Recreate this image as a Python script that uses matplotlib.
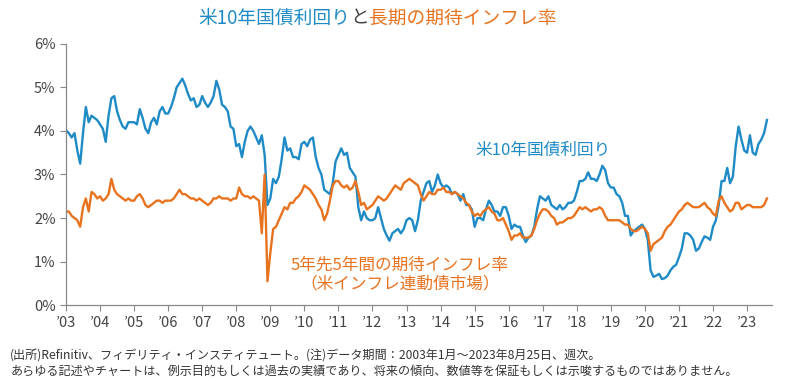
import numpy as np
import matplotlib
matplotlib.use("Agg")
import matplotlib.pyplot as plt

plt.rcParams['font.family'] = ['Noto Sans CJK JP', 'DejaVu Sans']

# monthly readings, Jan 2003 - Aug 2023 (%)
us10y = [
    4.02, 3.95, 3.85, 3.95, 3.55, 3.25, 3.95, 4.55, 4.20, 4.35, 4.30, 4.25,  # 2003
    4.15, 4.05, 3.75, 4.35, 4.75, 4.80, 4.45, 4.25, 4.10, 4.05, 4.20, 4.20,  # 2004
    4.20, 4.15, 4.50, 4.30, 4.05, 3.95, 4.20, 4.30, 4.15, 4.45, 4.55, 4.40,  # 2005
    4.40, 4.55, 4.75, 5.00, 5.10, 5.20, 5.05, 4.85, 4.70, 4.75, 4.55, 4.60,  # 2006
    4.80, 4.65, 4.55, 4.65, 4.80, 5.15, 4.95, 4.60, 4.55, 4.45, 4.10, 4.05,  # 2007
    3.65, 3.70, 3.40, 3.75, 4.00, 4.10, 4.00, 3.85, 3.70, 3.90, 3.45, 2.30,  # 2008
    2.45, 2.90, 2.80, 2.95, 3.35, 3.85, 3.55, 3.60, 3.40, 3.40, 3.35, 3.70,  # 2009
    3.75, 3.65, 3.80, 3.85, 3.40, 3.15, 3.00, 2.65, 2.60, 2.55, 2.80, 3.30,  # 2010
    3.45, 3.60, 3.45, 3.50, 3.15, 3.05, 2.95, 2.25, 1.95, 2.15, 2.00, 1.95,  # 2011
    1.95, 2.00, 2.25, 2.00, 1.75, 1.60, 1.48, 1.65, 1.70, 1.75, 1.65, 1.75,  # 2012
    1.95, 2.00, 1.95, 1.70, 1.95, 2.40, 2.60, 2.80, 2.85, 2.60, 2.75, 3.00,  # 2013
    2.80, 2.70, 2.75, 2.70, 2.55, 2.60, 2.55, 2.40, 2.55, 2.30, 2.30, 2.20,  # 2014
    1.80, 2.00, 2.00, 1.95, 2.20, 2.40, 2.30, 2.15, 2.15, 2.05, 2.25, 2.25,  # 2015
    2.05, 1.75, 1.85, 1.80, 1.80, 1.60, 1.45, 1.55, 1.60, 1.80, 2.20, 2.50,  # 2016
    2.45, 2.40, 2.50, 2.30, 2.25, 2.20, 2.30, 2.20, 2.25, 2.35, 2.35, 2.40,  # 2017
    2.60, 2.85, 2.85, 2.90, 3.05, 2.90, 2.90, 2.85, 3.00, 3.20, 3.10, 2.80,  # 2018
    2.70, 2.70, 2.55, 2.50, 2.35, 2.05, 2.05, 1.60, 1.70, 1.75, 1.80, 1.85,  # 2019
    1.75, 1.50, 0.80, 0.65, 0.68, 0.72, 0.60, 0.62, 0.68, 0.80, 0.88, 0.93,  # 2020
    1.10, 1.30, 1.65, 1.65, 1.60, 1.50, 1.25, 1.30, 1.45, 1.58, 1.55, 1.50,  # 2021
    1.80, 1.95, 2.30, 2.85, 2.85, 3.15, 2.80, 2.95, 3.65, 4.10, 3.80, 3.55,  # 2022
    3.50, 3.90, 3.50, 3.45, 3.70, 3.80, 3.95, 4.25,                          # 2023
]

infl5y5y = [
    2.15, 2.15, 2.05, 2.00, 1.95, 1.80, 2.25, 2.45, 2.15, 2.60, 2.55, 2.45,  # 2003
    2.50, 2.40, 2.45, 2.55, 2.90, 2.65, 2.55, 2.50, 2.45, 2.40, 2.45, 2.40,  # 2004
    2.40, 2.50, 2.55, 2.45, 2.30, 2.25, 2.30, 2.35, 2.40, 2.40, 2.35, 2.40,  # 2005
    2.40, 2.40, 2.45, 2.55, 2.65, 2.55, 2.55, 2.50, 2.45, 2.45, 2.40, 2.45,  # 2006
    2.40, 2.35, 2.30, 2.35, 2.45, 2.45, 2.50, 2.45, 2.45, 2.45, 2.40, 2.45,  # 2007
    2.45, 2.70, 2.55, 2.50, 2.50, 2.45, 2.50, 2.45, 2.40, 1.65, 3.00, 0.55,  # 2008
    1.20, 1.75, 1.80, 1.95, 2.10, 2.25, 2.20, 2.35, 2.35, 2.45, 2.50, 2.60,  # 2009
    2.75, 2.70, 2.65, 2.55, 2.45, 2.30, 2.20, 1.95, 2.10, 2.40, 2.75, 2.85,  # 2010
    2.85, 2.75, 2.70, 2.75, 2.65, 2.70, 2.85, 2.60, 2.30, 2.35, 2.20, 2.25,  # 2011
    2.30, 2.40, 2.50, 2.45, 2.40, 2.45, 2.55, 2.65, 2.75, 2.70, 2.65, 2.80,  # 2012
    2.85, 2.90, 2.85, 2.80, 2.75, 2.55, 2.40, 2.50, 2.60, 2.55, 2.55, 2.65,  # 2013
    2.65, 2.70, 2.60, 2.60, 2.55, 2.60, 2.55, 2.50, 2.45, 2.35, 2.30, 2.15,  # 2014
    2.05, 2.10, 2.05, 2.15, 2.20, 2.25, 2.15, 2.10, 1.95, 1.95, 2.00, 1.85,  # 2015
    1.70, 1.50, 1.60, 1.60, 1.65, 1.55, 1.55, 1.55, 1.60, 1.75, 1.95, 2.10,  # 2016
    2.20, 2.20, 2.15, 2.05, 2.00, 1.85, 1.90, 1.90, 1.95, 2.00, 2.00, 2.05,  # 2017
    2.15, 2.25, 2.20, 2.25, 2.20, 2.15, 2.20, 2.20, 2.25, 2.20, 2.05, 1.95,  # 2018
    1.95, 1.95, 1.95, 1.95, 1.90, 1.85, 1.85, 1.75, 1.70, 1.70, 1.75, 1.80,  # 2019
    1.75, 1.65, 1.25, 1.40, 1.45, 1.50, 1.55, 1.70, 1.80, 1.85, 1.95, 2.05,  # 2020
    2.15, 2.20, 2.30, 2.35, 2.30, 2.25, 2.25, 2.25, 2.30, 2.35, 2.25, 2.20,  # 2021
    2.10, 2.05, 2.40, 2.50, 2.35, 2.25, 2.15, 2.20, 2.35, 2.35, 2.20, 2.25,  # 2022
    2.30, 2.30, 2.25, 2.25, 2.25, 2.25, 2.30, 2.45,                          # 2023
]

years = list(range(2003, 2024))
year_labels = ["\u2019%02d" % (y % 100) for y in years]
y_ticks = [0, 1, 2, 3, 4, 5, 6]
y_labels = ['%d%%' % v for v in y_ticks]

BLUE = '#1f8bc6'
ORANGE = '#e8731f'
GRAY = '#444444'

t = 2003 + np.arange(len(us10y)) / 12.0

fig = plt.figure(figsize=(7.95, 3.81), dpi=100)
ax = fig.add_axes([0.083, 0.199, 0.888, 0.686])

ax.plot(t, us10y, color=BLUE, lw=1.7)
ax.plot(t, infl5y5y, color=ORANGE, lw=1.7)

ax.set_xlim(2003, 2023.73)
ax.set_ylim(0, 6)
ax.set_xticks(years)
ax.set_xticklabels(year_labels, fontsize=10.5, color=GRAY)
ax.set_yticks(y_ticks)
ax.set_yticklabels(y_labels, fontsize=10.5, color=GRAY)
ax.tick_params(axis='both', color='#888888', length=4, width=0.8)
for s in ['top', 'right']:
    ax.spines[s].set_visible(False)
for s in ['left', 'bottom']:
    ax.spines[s].set_color('#888888')
    ax.spines[s].set_linewidth(0.9)

ax.text(2017.0, 3.56, '米10年国債利回り', color=BLUE, fontsize=12,
        ha='center', va='center')
ax.text(2012.8, 0.7, '5年先5年間の期待インフレ率\n（米インフレ連動債市場）',
        color=ORANGE, fontsize=12, ha='center', va='center', linespacing=1.1)

# title in three colours
t1 = fig.text(0.250, 0.953, '米10年国債利回り', color=BLUE, fontsize=13.5,
              ha='left', va='center')
t2 = ax.annotate('と', xycoords=t1, xy=(1, 0), va='bottom', color=GRAY,
                 fontsize=13.5)
ax.annotate('長期の期待インフレ率', xycoords=t2, xy=(1, 0), va='bottom',
            color=ORANGE, fontsize=13.5)

fig.text(0.013, 0.068,
         '(出所)Refinitiv、フィデリティ・インスティテュート。(注)データ期間：2003年1月～2023年8月25日、週次。',
         fontsize=8.7, color='#333333', va='center')
fig.text(0.013, 0.024,
         'あらゆる記述やチャートは、例示目的もしくは過去の実績であり、将来の傾向、数値等を保証もしくは示唆するものではありません。',
         fontsize=8.7, color='#333333', va='center')

fig.savefig('out.png', dpi=100)
